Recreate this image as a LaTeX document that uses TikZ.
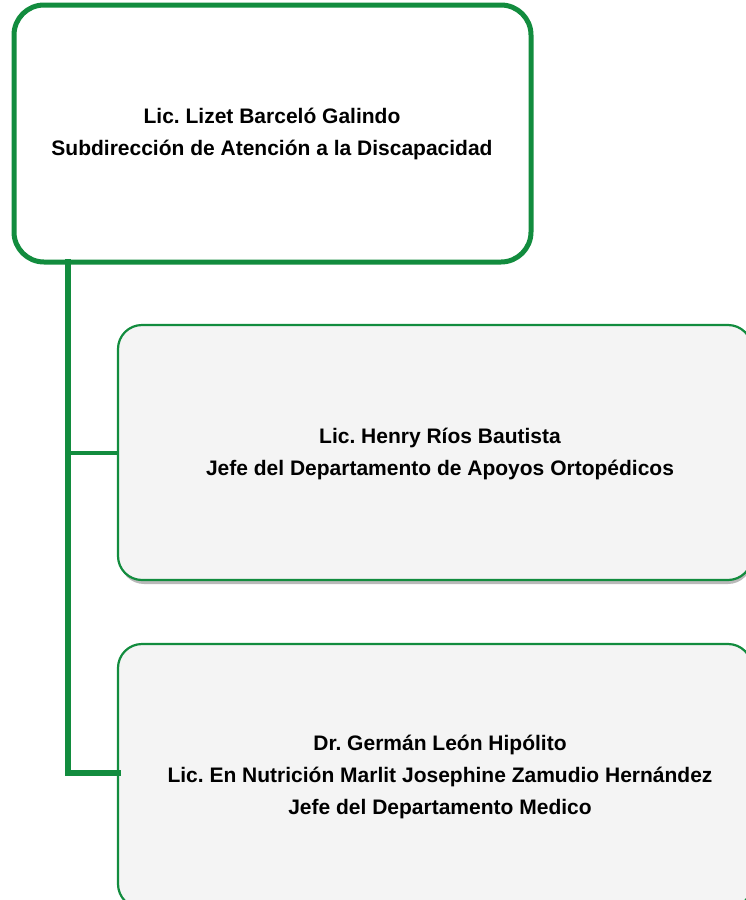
\documentclass[tikz,border=0pt]{standalone}
\usepackage{fontspec}
\setmainfont{Liberation Sans}
\frenchspacing
\definecolor{orggreen}{RGB}{18,140,62}
\definecolor{boxfill}{RGB}{244,244,244}
\definecolor{shadowgray}{RGB}{185,185,185}
\begin{document}
\begin{tikzpicture}[x=1pt,y=-1pt,
  txt/.style={align=center,font=\bfseries\fontsize{21}{32}\selectfont,text=black},
  topbox/.style={draw=orggreen,line width=5pt,fill=white,rounded corners=30pt},
  subbox/.style={draw=orggreen,line width=2.2pt,fill=boxfill,rounded corners=24pt},
  shadowbox/.style={fill=shadowgray,rounded corners=24pt},
  trunk/.style={draw=orggreen,line width=6pt},
  branch/.style={draw=orggreen,line width=3.5pt}]
\useasboundingbox (0,0) rectangle (746,900);
\clip (0,0) rectangle (746,900);
% top box
\draw[topbox] (14,5) rectangle (531,262);
\node[txt] (top) at (272,134) {Lic. Lizet Barceló Galindo\\Subdirección de Atención a la Discapacidad};
\coordinate (topbot) at (68,262);
% box 2
\fill[shadowbox] (120,330) rectangle (752,584);
\draw[subbox] (118,325) rectangle (752,580);
\node[txt] (b2) at (440,454) {Lic. Henry Ríos Bautista\\Jefe del Departamento de Apoyos Ortopédicos};
\coordinate (b2l) at (118,453);
\coordinate (j2) at (68,453);
% box 3
\fill[shadowbox] (120,649) rectangle (752,912);
\draw[subbox] (118,644) rectangle (752,908);
\node[txt] (b3) at (440,777) {Dr. Germán León Hipólito\\Lic. En Nutrición Marlit Josephine Zamudio Hernández\\Jefe del Departamento Medico};
\coordinate (b3l) at (118,773);
% connectors
\draw[trunk,line cap=rect] (topbot) -- (68,773) -- (b3l);
\draw[branch] (j2) -- (b2l);
\end{tikzpicture}
\end{document}
